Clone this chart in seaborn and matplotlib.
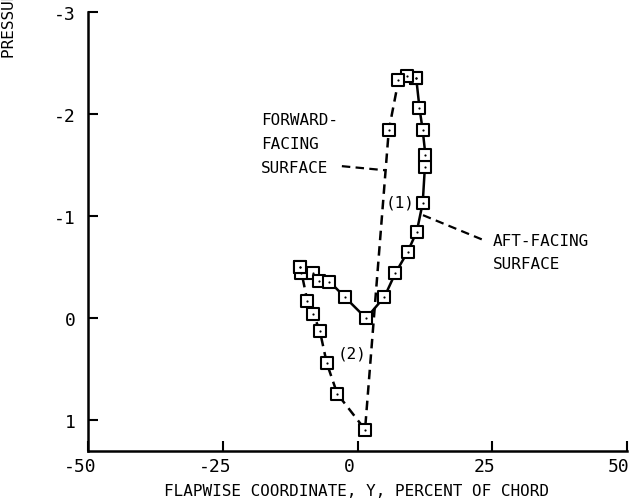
import matplotlib
matplotlib.use("Agg")
import matplotlib.pyplot as plt
import matplotlib.transforms as mtransforms
import seaborn as sns
import pandas as pd

# ---- data ----
aft_x = [-10.7, -10.4, -8.2, -7.1, -5.2, -2.4, 1.6, 5.0, 7.0, 9.3, 11.0, 12.1, 12.5, 12.6, 12.1, 11.5, 10.9]
aft_y = [-0.50, -0.44, -0.44, -0.37, -0.36, -0.21, 0.0, -0.21, -0.44, -0.65, -0.85, -1.13, -1.48, -1.60, -1.84, -2.06, -2.35]

fwd_x = [10.9, 9.2, 7.6, 5.8, 1.4, -3.75, -5.7, -7.0, -8.2, -9.3, -10.6]
fwd_y = [-2.35, -2.37, -2.33, -1.84, 1.09, 0.74, 0.44, 0.12, -0.04, -0.17, -0.50]

x_ticks = [-50, -25, 0, 25, 50]
y_ticks = [-3, -2, -1, 0, 1]

sns.set_theme(style="ticks")
plt.rcParams['font.family'] = ['DejaVu Sans Mono', 'DejaVu Sans']
plt.rcParams['axes.unicode_minus'] = False
plt.rcParams['text.color'] = 'black'

fig = plt.figure(figsize=(6.29, 5.02), dpi=100)
ax = fig.add_axes([88/629, 1-452/502, (627-88)/629, (452-13)/502])

aft = pd.DataFrame({'x': aft_x, 'y': aft_y})
fwd = pd.DataFrame({'x': fwd_x, 'y': fwd_y})

sns.lineplot(data=aft, x='x', y='y', sort=False, estimator=None, color='black', lw=1.8, ax=ax)
sns.lineplot(data=fwd, x='x', y='y', sort=False, estimator=None, color='black', lw=1.8,
             linestyle=(0, (3.8, 2.4)), ax=ax)

for d in (aft, fwd):
    sns.scatterplot(data=d, x='x', y='y', marker='s', s=70, color='white', edgecolor='black',
                    linewidth=1.5, zorder=3, ax=ax)
    sns.scatterplot(data=d, x='x', y='y', marker='o', s=2.5, color='black', edgecolor='black',
                    linewidth=0, zorder=4, ax=ax)

ax.set_xlim(-50, 50)
ax.set_ylim(1.3, -3)
ax.set_xticks(x_ticks)
ax.set_yticks(y_ticks)
ax.set_xticklabels([str(v) for v in x_ticks])
ax.set_yticklabels([str(v) for v in y_ticks])
ax.tick_params(direction='in', length=7, width=1.5, labelsize=13, colors='black', labelcolor='black')
ax.tick_params(axis='y', pad=9)
ax.tick_params(axis='x', pad=4)
shift = mtransforms.ScaledTranslation(-8/100, 0, fig.dpi_scale_trans)
for lab in ax.get_xticklabels():
    lab.set_transform(lab.get_transform() + shift)
for s in ('top', 'right'):
    ax.spines[s].set_visible(False)
for s in ('left', 'bottom'):
    ax.spines[s].set_linewidth(1.8)
    ax.spines[s].set_color('black')
ax.set_xlabel('')
ax.set_ylabel('')

fs = 11.5
ax.text(-17.9, -1.95, 'FORWARD-', fontsize=fs, va='center', ha='left')
ax.text(-17.9, -1.71, 'FACING', fontsize=fs, va='center', ha='left')
ax.text(-17.9, -1.48, 'SURFACE', fontsize=fs, va='center', ha='left')
ax.plot([-2.9, 5.1], [-1.49, -1.45], color='black', lw=1.6, linestyle=(0, (3.8, 2.4)))

ax.text(25.1, -0.76, 'AFT-FACING', fontsize=fs, va='center', ha='left')
ax.text(25.1, -0.54, 'SURFACE', fontsize=fs, va='center', ha='left')
ax.plot([12.15, 23.65], [-1.01, -0.76], color='black', lw=1.6, linestyle=(0, (3.8, 2.4)))

ax.text(7.9, -1.14, '(1)', fontsize=fs, va='center', ha='center')
ax.text(-1.0, 0.34, '(2)', fontsize=fs, va='center', ha='center')

fig.text(10/629, 1-58/502, 'PRESSURE COEFFICIENT, CP', rotation=90, ha='center', va='bottom', fontsize=11.5)
fig.text(356/629, 1-492/502, 'FLAPWISE COORDINATE, Y, PERCENT OF CHORD', ha='center', va='center', fontsize=11.5)

fig.savefig('out.png', dpi=100)
